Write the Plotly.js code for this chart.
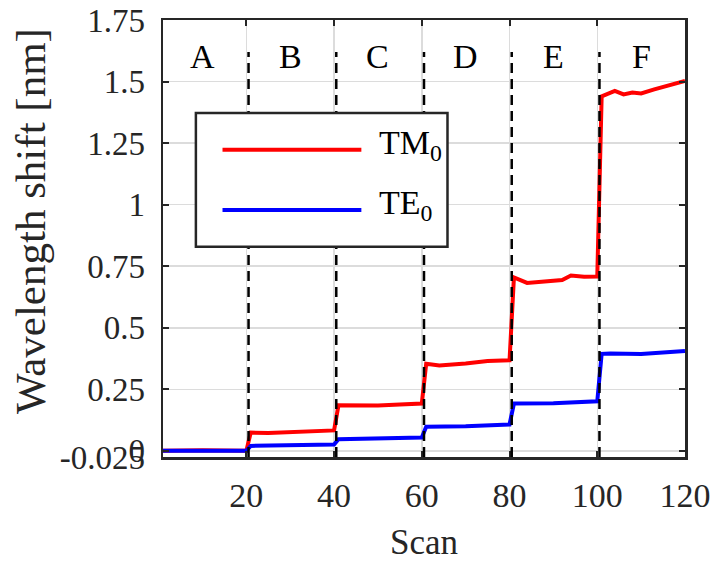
<!DOCTYPE html>
<html>
<head>
<meta charset="utf-8">
<script src="https://cdn.plot.ly/plotly-3.0.1.min.js"></script>
<style>html,body{margin:0;padding:0;background:#fff;}#chart{width:721px;height:565px;}</style>
</head>
<body>
<div id="chart"></div>
<script>
// ---- data ----
var scanTM  = [1, 10, 20, 21, 25, 30, 35, 40, 41, 45, 50, 55, 60, 61, 64, 70, 75, 80, 81, 84, 88, 92, 94, 97, 100, 101, 104, 106, 108, 110, 113, 117, 120];
var shiftTM = [0.0, 0.002, 0.0, 0.074, 0.072, 0.076, 0.079, 0.083, 0.185, 0.183, 0.184, 0.188, 0.192, 0.354, 0.347, 0.355, 0.365, 0.368, 0.704, 0.682, 0.686, 0.694, 0.712, 0.707, 0.708, 1.44, 1.462, 1.448, 1.455, 1.452, 1.468, 1.486, 1.503];
var scanTE  = [1, 20, 21, 30, 40, 41, 50, 60, 61, 70, 80, 81, 90, 100, 101, 103, 110, 120];
var shiftTE = [0.0, 0.0, 0.02, 0.022, 0.026, 0.047, 0.05, 0.054, 0.098, 0.1, 0.107, 0.192, 0.193, 0.201, 0.394, 0.395, 0.393, 0.406];
var seriesNames = ['TM<sub>0</sub>', 'TE<sub>0</sub>'];
var segmentLabels = ['A', 'B', 'C', 'D', 'E', 'F'];
var segmentCenters = [10, 30, 50, 70, 90, 110];
var segmentBoundaries = [20.5, 40.5, 60.5, 80.5, 100.5];
var xTickVals = [20, 40, 60, 80, 100, 120];
var yTickVals = [-0.025, 0, 0.25, 0.5, 0.75, 1, 1.25, 1.5, 1.75];
var yTickText = ['-0.025', '0', '0.25', '0.5', '0.75', '1', '1.25', '1.5', '1.75'];

var FONT = '"Liberation Serif", "Times New Roman", Times, serif';
var INK = '#262626';

var traces = [
  {x: scanTM, y: shiftTM, type: 'scatter', mode: 'lines', name: seriesNames[0],
   line: {color: '#ff0000', width: 4}, showlegend: false},
  {x: scanTE, y: shiftTE, type: 'scatter', mode: 'lines', name: seriesNames[1],
   line: {color: '#0000ff', width: 4}, showlegend: false}
];

var shapes = segmentBoundaries.map(function (b) {
  return {type: 'line', xref: 'x', yref: 'y', x0: b, x1: b, y0: -0.025, y1: 1.62,
          line: {color: '#000', width: 2.5, dash: '10px,6px'}, layer: 'above'};
});
// legend frame and samples
shapes.push({type: 'rect', xref: 'paper', yref: 'paper', x0: 0.063, x1: 0.545, y0: 0.481, y1: 0.787,
             fillcolor: '#fff', line: {color: INK, width: 2.5}, layer: 'above'});
shapes.push({type: 'line', xref: 'paper', yref: 'paper', x0: 0.114, x1: 0.380, y0: 0.703, y1: 0.703,
             line: {color: '#ff0000', width: 4}, layer: 'above'});
shapes.push({type: 'line', xref: 'paper', yref: 'paper', x0: 0.114, x1: 0.380, y0: 0.565, y1: 0.565,
             line: {color: '#0000ff', width: 4}, layer: 'above'});

var annotations = segmentLabels.map(function (t, i) {
  return {x: segmentCenters[i], y: 1.6, xref: 'x', yref: 'y', text: t, showarrow: false,
          font: {family: FONT, size: 34, color: '#000'}};
});
annotations.push({x: 0.41, y: 0.715, xref: 'paper', yref: 'paper', xanchor: 'left', yanchor: 'middle',
                  text: seriesNames[0], showarrow: false, font: {family: FONT, size: 34, color: '#000'}});
annotations.push({x: 0.41, y: 0.577, xref: 'paper', yref: 'paper', xanchor: 'left', yanchor: 'middle',
                  text: seriesNames[1], showarrow: false, font: {family: FONT, size: 34, color: '#000'}});
annotations.push({x: -0.255, y: 0.54, xref: 'paper', yref: 'paper', xanchor: 'center', yanchor: 'middle',
                  textangle: -90, text: 'Wavelength shift [nm]', showarrow: false,
                  font: {family: FONT, size: 43, color: INK}});

var layout = {
  width: 721, height: 565,
  margin: {l: 163, r: 36, t: 20, b: 108},
  paper_bgcolor: '#fff', plot_bgcolor: '#fff',
  font: {family: FONT, color: INK},
  xaxis: {
    range: [1, 120], tickvals: xTickVals, ticktext: xTickVals.map(String),
    showgrid: true, gridcolor: '#dcdcdc', gridwidth: 1.5, zeroline: false,
    ticks: 'inside', ticklen: 6, tickwidth: 2, tickcolor: INK,
    showline: true, linecolor: INK, linewidth: 2.5, mirror: 'ticks',
    tickfont: {family: FONT, size: 34, color: INK}, ticklabelstandoff: 7,
    title: {text: 'Scan', font: {family: FONT, size: 35, color: INK}, standoff: 16}
  },
  yaxis: {
    range: [-0.025, 1.75], tickvals: yTickVals, ticktext: yTickText,
    showgrid: true, gridcolor: '#dcdcdc', gridwidth: 1.5, zeroline: false,
    ticks: 'inside', ticklen: 6, tickwidth: 2, tickcolor: INK,
    showline: true, linecolor: INK, linewidth: 2.5, mirror: 'ticks',
    tickfont: {family: FONT, size: 33, color: INK}, ticklabelstandoff: 9
  },
  shapes: shapes,
  annotations: annotations,
  showlegend: false
};

Plotly.newPlot('chart', traces, layout, {displayModeBar: false, staticPlot: true});
</script>
</body>
</html>
